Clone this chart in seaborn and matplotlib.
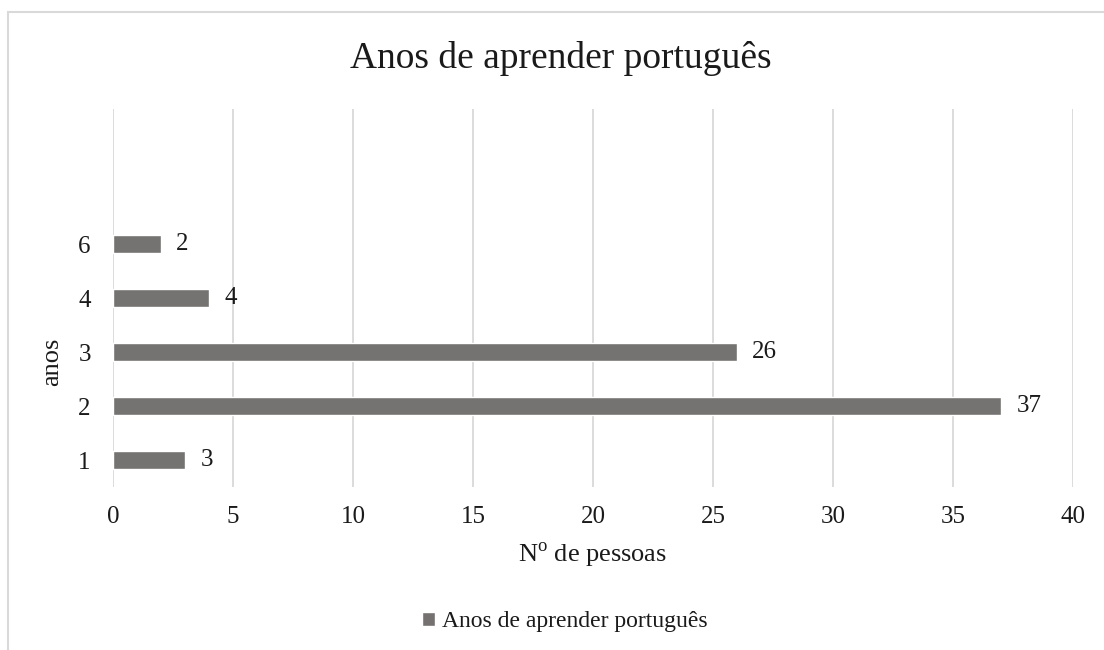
import matplotlib
matplotlib.use("Agg")
import matplotlib.pyplot as plt
import seaborn as sns
import pandas as pd
from matplotlib.patches import Rectangle

anos = ['1', '2', '3', '4', '6']
pessoas = [3, 37, 26, 4, 2]
serie = 'Anos de aprender português'

df = pd.DataFrame({'anos': anos, 'pessoas': pessoas, 'serie': serie})

sns.set_style('white')
plt.rcParams['font.family'] = ['Liberation Serif', 'DejaVu Serif']
plt.rcParams['mathtext.fontset'] = 'custom'
plt.rcParams['mathtext.rm'] = 'Liberation Serif'

fig = plt.figure(figsize=(11.04, 6.5), dpi=100)
ax = fig.add_axes([113 / 1104, 1 - 487 / 650, 960 / 1104, 378 / 650])

bar_color = '#767171'
txt = '#1a1a1a'
sns.barplot(data=df, y='anos', x='pessoas', hue='serie', order=anos[::-1],
            orient='h', palette=[bar_color], width=0.35, ax=ax, legend=False)

for c in ax.containers:
    ax.bar_label(c, padding=11, fontsize=18, color=txt)

ax.set_xlim(0, 40)
ax.set_xticks(range(0, 41, 5))
ax.set_ylim(4.5, -2.5)
ax.grid(axis='x', color='#d9d9d9', linewidth=1.3)
ax.set_axisbelow(True)
for s in ax.spines.values():
    s.set_visible(False)
ax.tick_params(axis='both', length=0, labelsize=18, colors=txt)
ax.tick_params(axis='x', pad=14)
ax.tick_params(axis='y', pad=16)

ax.set_xlabel(r'N$^{\mathrm{o}}$ de pessoas', fontsize=19, color=txt, labelpad=9)
ax.set_ylabel('anos', fontsize=19, color=txt)
ax.yaxis.set_label_coords(-0.052, 0.33)

fig.suptitle(serie, x=561 / 1104, y=1 - 58 / 650, va='center', fontsize=27, color=txt)

handle = Rectangle((0, 0), 1, 1, facecolor=bar_color)
fig.legend([handle], [serie], loc='center', bbox_to_anchor=(565 / 1104, 1 - 622 / 650),
           frameon=False, fontsize=17, handlelength=0.55, handleheight=0.55,
           handletextpad=0.3, labelcolor=txt)

# chart area border (Excel style, partially cropped)
fig.patches.append(Rectangle((8 / 1104, -0.1), 1.2, 1 - 12 / 650 + 0.1,
                             transform=fig.transFigure, fill=False,
                             edgecolor='#d9d9d9', linewidth=1.5))

fig.savefig('out.png', dpi=100)
